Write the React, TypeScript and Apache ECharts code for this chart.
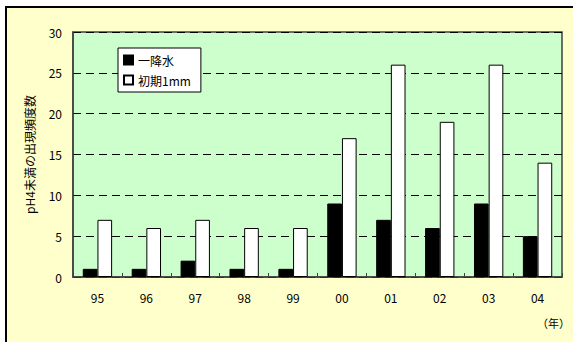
import React, { useEffect, useRef } from "react";
import * as echarts from "echarts";

const categories = ["95", "96", "97", "98", "99", "00", "01", "02", "03", "04"];
const rainAll = [1, 1, 2, 1, 1, 9, 7, 6, 9, 5];
const initial1mm = [7, 6, 7, 6, 6, 17, 26, 19, 26, 14];
const seriesNames = ["一降水", "初期1mm"];
const yAxisName = "pH4未満の出現頻度数";
const xUnit = "（年）";

const FONT = "'Noto Sans CJK JP', 'Noto Sans', sans-serif";

export default function App() {
  const ref = useRef<HTMLDivElement>(null);
  useEffect(() => {
    if (!ref.current) return;
    const chart = echarts.init(ref.current, undefined, { renderer: "svg" });
    chart.setOption({
      animation: false,
      backgroundColor: "#ffffff",
      textStyle: { fontFamily: FONT },
      graphic: [
        {
          type: "rect",
          z: -10,
          silent: true,
          shape: { x: 6, y: 7, width: 700, height: 500 },
          style: { fill: "#FFFFCC", stroke: "#000000", lineWidth: 2 },
        },
        {
          type: "text",
          x: 570,
          y: 323,
          style: {
            text: xUnit,
            fontSize: 11,
            fontFamily: FONT,
            fill: "#000000",
            align: "right",
            verticalAlign: "middle",
          },
        },
      ],
      grid: {
        left: 73,
        top: 32,
        right: 11,
        bottom: 65,
        show: true,
        backgroundColor: "#CCFFCC",
        borderColor: "#404040",
        borderWidth: 1.5,
      },
      legend: {
        orient: "vertical",
        left: 118,
        top: 48,
        padding: [6, 10, 6, 5],
        itemWidth: 9,
        itemHeight: 9,
        itemGap: 8,
        icon: "rect",
        backgroundColor: "#ffffff",
        borderColor: "#000000",
        borderWidth: 1,
        borderRadius: 0,
        textStyle: { fontSize: 12, fontFamily: FONT, color: "#000000" },
        data: seriesNames,
      },
      xAxis: {
        type: "category",
        data: categories,
        boundaryGap: true,
        axisLine: { lineStyle: { color: "#404040", width: 1.5 } },
        axisTick: { show: true, inside: true, length: 4, lineStyle: { color: "#404040" } },
        axisLabel: { fontSize: 12, color: "#000000", margin: 14, fontFamily: FONT },
      },
      yAxis: {
        type: "value",
        min: 0,
        max: 30,
        interval: 5,
        name: yAxisName,
        nameLocation: "middle",
        nameGap: 38,
        nameRotate: 90,
        nameTextStyle: { fontSize: 12, color: "#000000", fontFamily: FONT },
        axisLine: { show: true, lineStyle: { color: "#404040", width: 1.5 } },
        axisTick: { show: false },
        axisLabel: { fontSize: 12, color: "#000000", margin: 11, fontFamily: FONT },
        splitLine: { show: true, lineStyle: { color: "#000000", type: [8, 5], width: 1 } },
      },
      series: [
        {
          name: seriesNames[0],
          type: "bar",
          data: rainAll,
          barGap: "0%",
          barCategoryGap: "40%",
          itemStyle: { color: "#000000", borderColor: "#000000", borderWidth: 1 },
        },
        {
          name: seriesNames[1],
          type: "bar",
          data: initial1mm,
          barGap: "0%",
          barCategoryGap: "40%",
          itemStyle: { color: "#ffffff", borderColor: "#000000", borderWidth: 1 },
        },
      ],
    });
    return () => chart.dispose();
  }, []);
  return (
    <div
      ref={ref}
      style={{ position: "fixed", left: 0, top: 0, width: 573, height: 342 }}
    />
  );
}
